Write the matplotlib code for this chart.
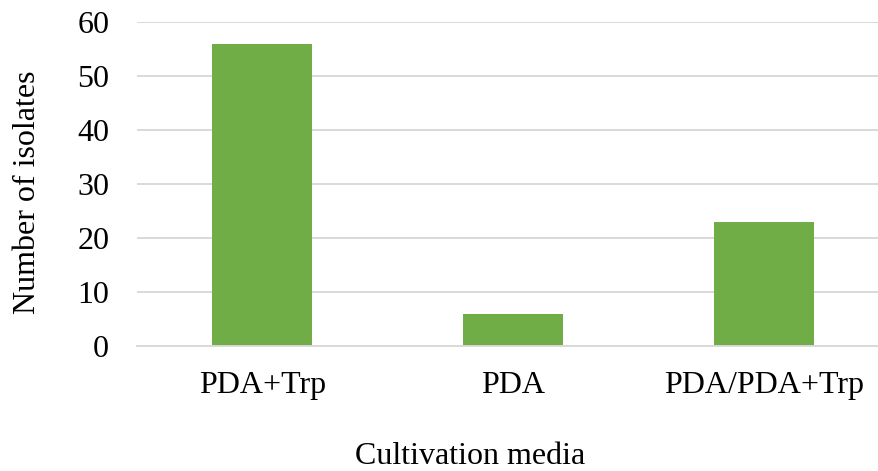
import matplotlib.pyplot as plt

media = ['PDA+Trp', 'PDA', 'PDA/PDA+Trp']
isolates = [56, 6, 23]

W, H = 879, 471
plt.rcParams['font.family'] = ['Liberation Serif', 'DejaVu Serif']

fig = plt.figure(figsize=(W / 100, H / 100), dpi=100)
# plot area in pixels: left 137, top 22, bottom 346, runs to right edge
ax = fig.add_axes([137 / W, (H - 346) / H, (W - 137) / W, 324 / H])

ax.bar(range(len(media)), isolates, width=0.4, color='#70ad47', zorder=2)

ax.set_xlim(-0.5, 2.46)
ax.set_ylim(0, 60)
ax.set_yticks(range(0, 61, 10))
ax.set_xticks(range(len(media)))
ax.set_xticklabels(media)
ax.grid(axis='y', color='#d9d9d9', linewidth=1.4, zorder=0)
ax.set_axisbelow(True)

for s in ['top', 'right', 'left']:
    ax.spines[s].set_visible(False)
ax.spines['bottom'].set_color('#d9d9d9')
ax.spines['bottom'].set_linewidth(1.4)

ax.tick_params(axis='both', length=0, labelsize=23, colors='black')
ax.tick_params(axis='y', pad=20)
ax.tick_params(axis='x', pad=18)

ax.set_xlabel('Cultivation media', fontsize=23)
ax.set_ylabel('Number of isolates', fontsize=23)
ax.xaxis.set_label_coords(470.5 / W, 1 - 457 / H, transform=fig.transFigure)
ax.xaxis.label.set_va('center')
ax.yaxis.set_label_coords(28 / W, 1 - 192 / H, transform=fig.transFigure)
ax.yaxis.label.set_va('center')

fig.savefig('out.png', dpi=100)
